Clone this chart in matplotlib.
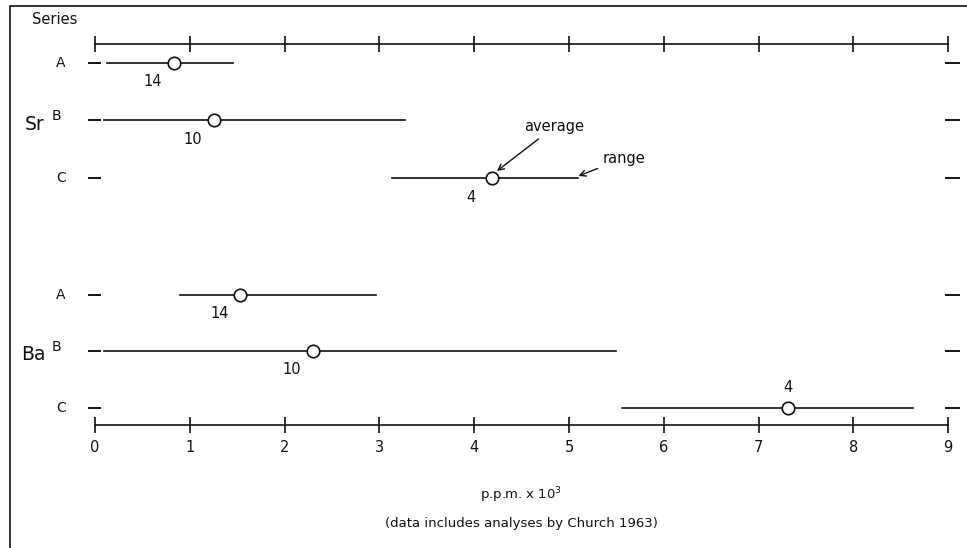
import matplotlib
matplotlib.use("Agg")
import matplotlib.pyplot as plt

plt.rcParams.update({"font.family": "DejaVu Sans", "font.size": 10})
INK = "#111111"

# data (p.p.m. x 10^3)
elements = ["Sr", "Sr", "Sr", "Ba", "Ba", "Ba"]
series = ["A", "B", "C", "A", "B", "C"]
lo = [0.13, 0.10, 3.13, 0.90, 0.10, 5.56]
hi = [1.46, 3.27, 5.10, 2.96, 5.50, 8.63]
avg = [0.83, 1.25, 4.19, 1.53, 2.30, 7.31]
count = [14, 10, 4, 14, 10, 4]
ticks = list(range(10))

# layout: x in data units, y in pixels from top
X0, SC = 95, 94.8
row_y = [63, 120, 178, 295, 351, 408]
TOP_AX, BOT_AX = 44, 425
def px(p): return (p - X0) / SC

fig = plt.figure(figsize=(9.67, 5.48), dpi=100)
ax = fig.add_axes([0, 0, 1, 1])
ax.set_xlim(px(0), px(967)); ax.set_ylim(548, 0); ax.axis("off")

# frame (left + top)
ax.plot([px(10), px(10), px(967)], [548, 6, 6], color=INK, lw=1.2)

# scale bars top and bottom
for yy in (TOP_AX, BOT_AX):
    ax.plot([ticks[0], ticks[-1]], [yy, yy], color=INK, lw=1.2)
    ax.vlines(ticks, yy - 8, yy + 8, color=INK, lw=1.2)
for t in ticks:
    ax.text(t, 447, str(t), ha="center", va="center", fontsize=10.5, color=INK)

# row markers at both ends
for yy in row_y:
    ax.plot([px(89), px(100)], [yy, yy], color=INK, lw=1.4)
    ax.plot([px(946), px(959)], [yy, yy], color=INK, lw=1.4)

for i, (s, a, b, m, n, yy) in enumerate(zip(series, lo, hi, avg, count, row_y)):
    if s == "B":
        ax.text(px(56), yy - 4, s, ha="center", va="center", fontsize=10, color=INK)
    else:
        ax.text(px(61), yy, s, ha="center", va="center", fontsize=10, color=INK)
    ax.plot([a, b], [yy, yy], color=INK, lw=1.2, zorder=2)
    ax.plot([m], [yy], "o", ms=9, mfc="white", mec=INK, mew=1.2, zorder=3)
    if i == 5:
        ax.text(m, yy - 20, str(n), ha="center", va="center", fontsize=10.5, color=INK)
    else:
        ax.text(m - 0.22, yy + 19, str(n), ha="center", va="center", fontsize=10.5, color=INK)

# element labels
ax.text(px(32), 20, "Series", ha="left", va="center", fontsize=10.5, color=INK)
ax.text(px(45), row_y[1] + 4, "Sr", ha="right", va="center", fontsize=13.5, color=INK)
ax.text(px(46), row_y[4] + 4, "Ba", ha="right", va="center", fontsize=13.5, color=INK)

# annotations on Sr C
ax.annotate("average", xy=(avg[2] + 0.05, row_y[2] - 7), xytext=(px(524), 127),
            ha="left", va="center", fontsize=10.5, color=INK,
            arrowprops=dict(arrowstyle="->", color=INK, lw=1.0, shrinkA=2, shrinkB=0))
ax.annotate("range", xy=(hi[2], row_y[2] - 2), xytext=(px(603), 158),
            ha="left", va="center", fontsize=10.5, color=INK,
            arrowprops=dict(arrowstyle="->", color=INK, lw=1.0, shrinkA=2, shrinkB=0))

# axis titles
ax.text(px(521), 495, r"p.p.m. x 10$^3$", ha="center", va="center", fontsize=9.5, color=INK)
ax.text(px(521), 523, "(data includes analyses by Church 1963)", ha="center", va="center",
        fontsize=9.5, color=INK)

fig.savefig("out.png", dpi=100, facecolor="white")
